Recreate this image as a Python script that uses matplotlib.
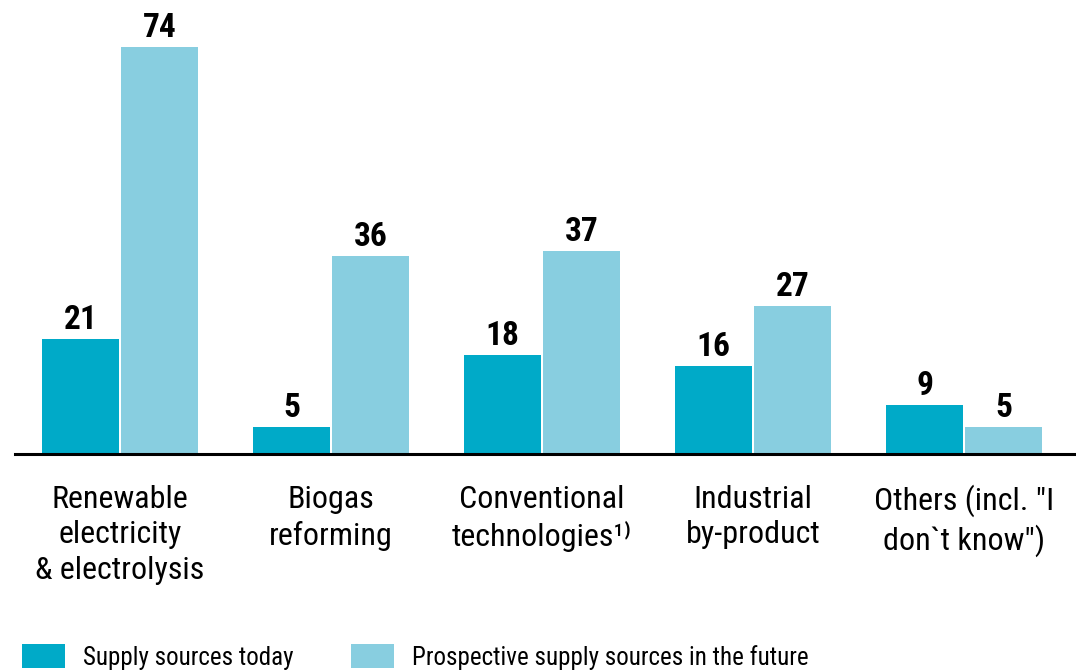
import matplotlib
matplotlib.use("Agg")
import matplotlib.pyplot as plt
from matplotlib import font_manager
import numpy as np

categories = ["Renewable\nelectricity\n& electrolysis", "Biogas\nreforming",
              "Conventional\ntechnologies\u00b9\u207e", "Industrial\nby-product",
              "Others (incl. \"I\ndon`t know\")"]
today = [21, 5, 18, 16, 9]
future = [74, 36, 37, 27, 5]
series_names = ["Supply sources today", "Prospective supply sources in the future"]
colors = ["#00AAC8", "#88CEE0"]

flist = font_manager.fontManager.ttflist
names = {f.name for f in flist}
cands = sorted({f.name for f in flist if ("Narrow" in f.name or "Condensed" in f.name)})
fam = None
for pref in ["Liberation Sans Narrow", "Arial Narrow", "Roboto Condensed", "Open Sans Condensed"]:
    if pref in names:
        fam = pref
        break
if fam is None and cands:
    fam = cands[0]
if fam is None:
    fam = "Liberation Sans"
plt.rcParams['font.family'] = [fam, 'DejaVu Sans']

W, H = 1076, 670
LABEL_FS = 23
fig = plt.figure(figsize=(W/100, H/100), dpi=100)
ax = fig.add_axes([15/W, 216/H, 1 - 15/W, 440/H])

x = np.arange(len(categories))
bw = 0.365
gap = 0.005
b1 = ax.bar(x - bw/2 - gap, today, bw, color=colors[0], label=series_names[0])
b2 = ax.bar(x + bw/2 + gap, future, bw, color=colors[1], label=series_names[1])
for bars, vals in ((b1, today), (b2, future)):
    for r, v in zip(bars, vals):
        ax.annotate(str(v), (r.get_x() + r.get_width()/2, r.get_height()),
                    xytext=(0, 2), textcoords="offset points", ha="center", va="bottom",
                    fontsize=24, fontweight="bold")

ax.set_xlim(-0.497, 4.53)
ax.set_ylim(0, 80)
ax.set_xticks(x)
ax.set_xticklabels(categories, fontsize=LABEL_FS, linespacing=1.3)
ax.tick_params(axis="x", length=0, pad=22)
ax.set_yticks([])
for s in ("top", "right", "left"):
    ax.spines[s].set_visible(False)
ax.spines["bottom"].set_linewidth(2.2)
ax.spines["bottom"].set_color("black")

fig.legend(handles=[b1, b2], loc="upper left", bbox_to_anchor=(22/W, 1 - 644/H), ncol=2,
           frameon=False, fontsize=18, handlelength=1.72, handleheight=1.1,
           handletextpad=0.72, columnspacing=2.3, borderpad=0, borderaxespad=0)

fig.savefig("out.png", dpi=100)
